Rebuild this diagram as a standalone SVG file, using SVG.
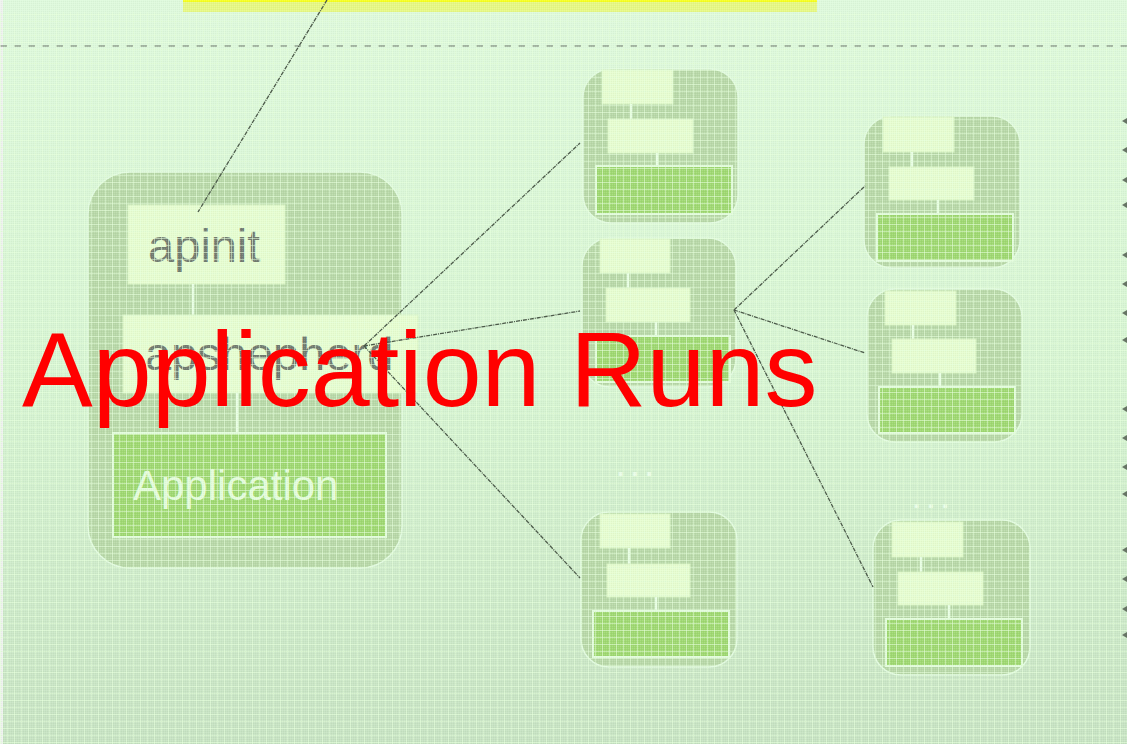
<svg xmlns="http://www.w3.org/2000/svg" width="1127" height="744" viewBox="0 0 1127 744">
  <style>
    .node { fill: #b8d8a8; stroke: #e2fbe0; stroke-width: 1.5; }
    .box { fill: #e6fdd0; stroke: #d8f4c4; stroke-width: 1; }
    .app { fill: #9fd872; stroke: #e2fcdc; stroke-width: 2; }
    .link { stroke: #e8ffe4; stroke-width: 2.5; }
    .wire { stroke: #4c5a4a; stroke-width: 1.3; stroke-dasharray: 4 1 1 1; fill: none; }
    .label { font-family: "Liberation Sans", Arial, sans-serif; fill: #727c70; }
    .tip { fill: #667464; }
    .dots { font-family: "Liberation Sans", Arial, sans-serif; font-size: 26px; font-weight: bold; fill: #eafde8; letter-spacing: 7px; }
  </style>
  <defs>
    <linearGradient id="bg" x1="0" y1="0" x2="0" y2="1">
      <stop offset="0" stop-color="#def9dc"/>
      <stop offset="0.5" stop-color="#d6f4d2"/>
      <stop offset="1" stop-color="#c6e2c2"/>
    </linearGradient>
    <pattern id="grid" width="7" height="7" patternUnits="userSpaceOnUse">
      <path d="M0 0.5H7M0.5 0V7" stroke="#e4ffd8" stroke-opacity="0.55" stroke-width="1" fill="none"/>
    </pattern>
    <pattern id="dither" width="2" height="2" patternUnits="userSpaceOnUse">
      <rect x="0" y="0" width="1" height="1" fill="#ffffff" fill-opacity="0.12"/>
      <rect x="1" y="1" width="1" height="1" fill="#000000" fill-opacity="0.03"/>
    </pattern>
  </defs>

  <!-- page background -->
  <rect x="0" y="0" width="1127" height="744" fill="url(#bg)"/>
  <line x1="1.5" y1="0" x2="1.5" y2="744" stroke="#eef2ee" stroke-width="3"/>

  <!-- header band and separator -->
  <rect x="183" y="0" width="634" height="12" fill="#e6f884"/>
  <rect x="183" y="0" width="634" height="2" fill="#f6ff20"/>
  <line x1="0" y1="46" x2="1127" y2="46" stroke="#6a7468" stroke-width="1" stroke-dasharray="7 7"/>

  <!-- host node: apinit / apshepherd / Application -->
  <g id="host">
    <rect class="node" x="88" y="172" width="314" height="396" rx="42"/>
    <rect class="box" x="128" y="205" width="157" height="79"/>
    <line class="link" x1="193" y1="284" x2="193" y2="315"/>
    <rect class="box" x="123" y="315" width="295" height="78"/>
    <line class="link" x1="237" y1="393" x2="237" y2="433"/>
    <rect class="app" x="113" y="433" width="273" height="104"/>
    <text class="label" x="148" y="262" font-size="47">apinit</text>
    <text class="label" x="145" y="370" font-size="47">apshepherd</text>
    <text x="133" y="500" font-size="42" font-family="Liberation Sans, Arial, sans-serif" fill="#e4fcdc">Application</text>
  </g>

  <!-- second tier -->
  <g id="tier2-a">
    <rect class="node" x="583" y="69" width="155" height="154" rx="28"/>
    <rect class="box" x="602" y="70" width="71" height="34"/>
    <line class="link" x1="631" y1="104" x2="631" y2="119"/>
    <rect class="box" x="608" y="119" width="85" height="34"/>
    <line class="link" x1="657" y1="153" x2="657" y2="166"/>
    <rect class="app" x="596" y="166" width="136" height="48"/>
  </g>
  <g id="tier2-b">
    <rect class="node" x="582" y="238" width="154" height="149" rx="28"/>
    <rect class="box" x="600" y="239" width="70" height="34"/>
    <line class="link" x1="628" y1="273" x2="628" y2="288"/>
    <rect class="box" x="606" y="288" width="84" height="34"/>
    <line class="link" x1="656" y1="322" x2="656" y2="336"/>
    <rect class="app" x="596" y="336" width="134" height="46"/>
  </g>
  <g id="tier2-c">
    <rect class="node" x="581" y="512" width="156" height="155" rx="28"/>
    <rect class="box" x="600" y="514" width="70" height="34"/>
    <line class="link" x1="629" y1="548" x2="629" y2="564"/>
    <rect class="box" x="607" y="564" width="83" height="33"/>
    <line class="link" x1="656" y1="597" x2="656" y2="611"/>
    <rect class="app" x="593" y="611" width="136" height="46"/>
  </g>
  <text class="dots" x="617" y="476">...</text>

  <!-- third tier -->
  <g id="tier3-a">
    <rect class="node" x="864" y="116" width="156" height="152" rx="28"/>
    <rect class="box" x="883" y="117" width="71" height="35"/>
    <line class="link" x1="912" y1="152" x2="912" y2="167"/>
    <rect class="box" x="889" y="167" width="85" height="33"/>
    <line class="link" x1="938" y1="200" x2="938" y2="214"/>
    <rect class="app" x="877" y="214" width="136" height="47"/>
  </g>
  <g id="tier3-b">
    <rect class="node" x="867" y="289" width="155" height="153" rx="28"/>
    <rect class="box" x="885" y="291" width="71" height="34"/>
    <line class="link" x1="913" y1="325" x2="913" y2="339"/>
    <rect class="box" x="892" y="339" width="84" height="34"/>
    <line class="link" x1="940" y1="373" x2="940" y2="387"/>
    <rect class="app" x="879" y="387" width="136" height="46"/>
  </g>
  <g id="tier3-c">
    <rect class="node" x="873" y="520" width="157" height="155" rx="28"/>
    <rect class="box" x="892" y="522" width="71" height="35"/>
    <line class="link" x1="921" y1="557" x2="921" y2="572"/>
    <rect class="box" x="898" y="572" width="85" height="33"/>
    <line class="link" x1="949" y1="605" x2="949" y2="619"/>
    <rect class="app" x="886" y="619" width="136" height="47"/>
  </g>
  <text class="dots" x="913" y="508">...</text>

  <!-- surface texture -->
  <rect x="0" y="12" width="1127" height="732" fill="url(#grid)"/>
  <rect x="0" y="0" width="1127" height="744" fill="url(#dither)"/>

  <!-- connectors -->
  <g id="connectors">
    <line class="wire" x1="327" y1="0" x2="198" y2="212"/>
    <line class="wire" x1="364" y1="346" x2="580" y2="143"/>
    <line class="wire" x1="364" y1="346" x2="580" y2="311"/>
    <line class="wire" x1="364" y1="346" x2="580" y2="578"/>
    <line class="wire" x1="734" y1="310" x2="865" y2="186"/>
    <line class="wire" x1="734" y1="310" x2="865" y2="353"/>
    <line class="wire" x1="734" y1="310" x2="873" y2="587"/>
    <!-- arrow tips entering from the right edge -->
    <g class="tip">
      <path d="M1122 121l5 -3v6z"/>
      <path d="M1122 150l5 -3v6z"/>
      <path d="M1122 180l5 -3v6z"/>
      <path d="M1122 205l5 -3v6z"/>
      <path d="M1122 255l5 -3v6z"/>
      <path d="M1122 284l5 -3v6z"/>
      <path d="M1122 313l5 -3v6z"/>
      <path d="M1122 340l5 -3v6z"/>
      <path d="M1122 409l5 -3v6z"/>
      <path d="M1122 438l5 -3v6z"/>
      <path d="M1122 467l5 -3v6z"/>
      <path d="M1122 494l5 -3v6z"/>
      <path d="M1122 550l5 -3v6z"/>
      <path d="M1122 579l5 -3v6z"/>
      <path d="M1122 609l5 -3v6z"/>
      <path d="M1122 635l5 -3v6z"/>
    </g>
  </g>

  <!-- caption -->
  <text x="22" y="406" font-size="106" font-family="Liberation Sans, Arial, sans-serif" fill="#ff0000">Application Runs</text>
</svg>
